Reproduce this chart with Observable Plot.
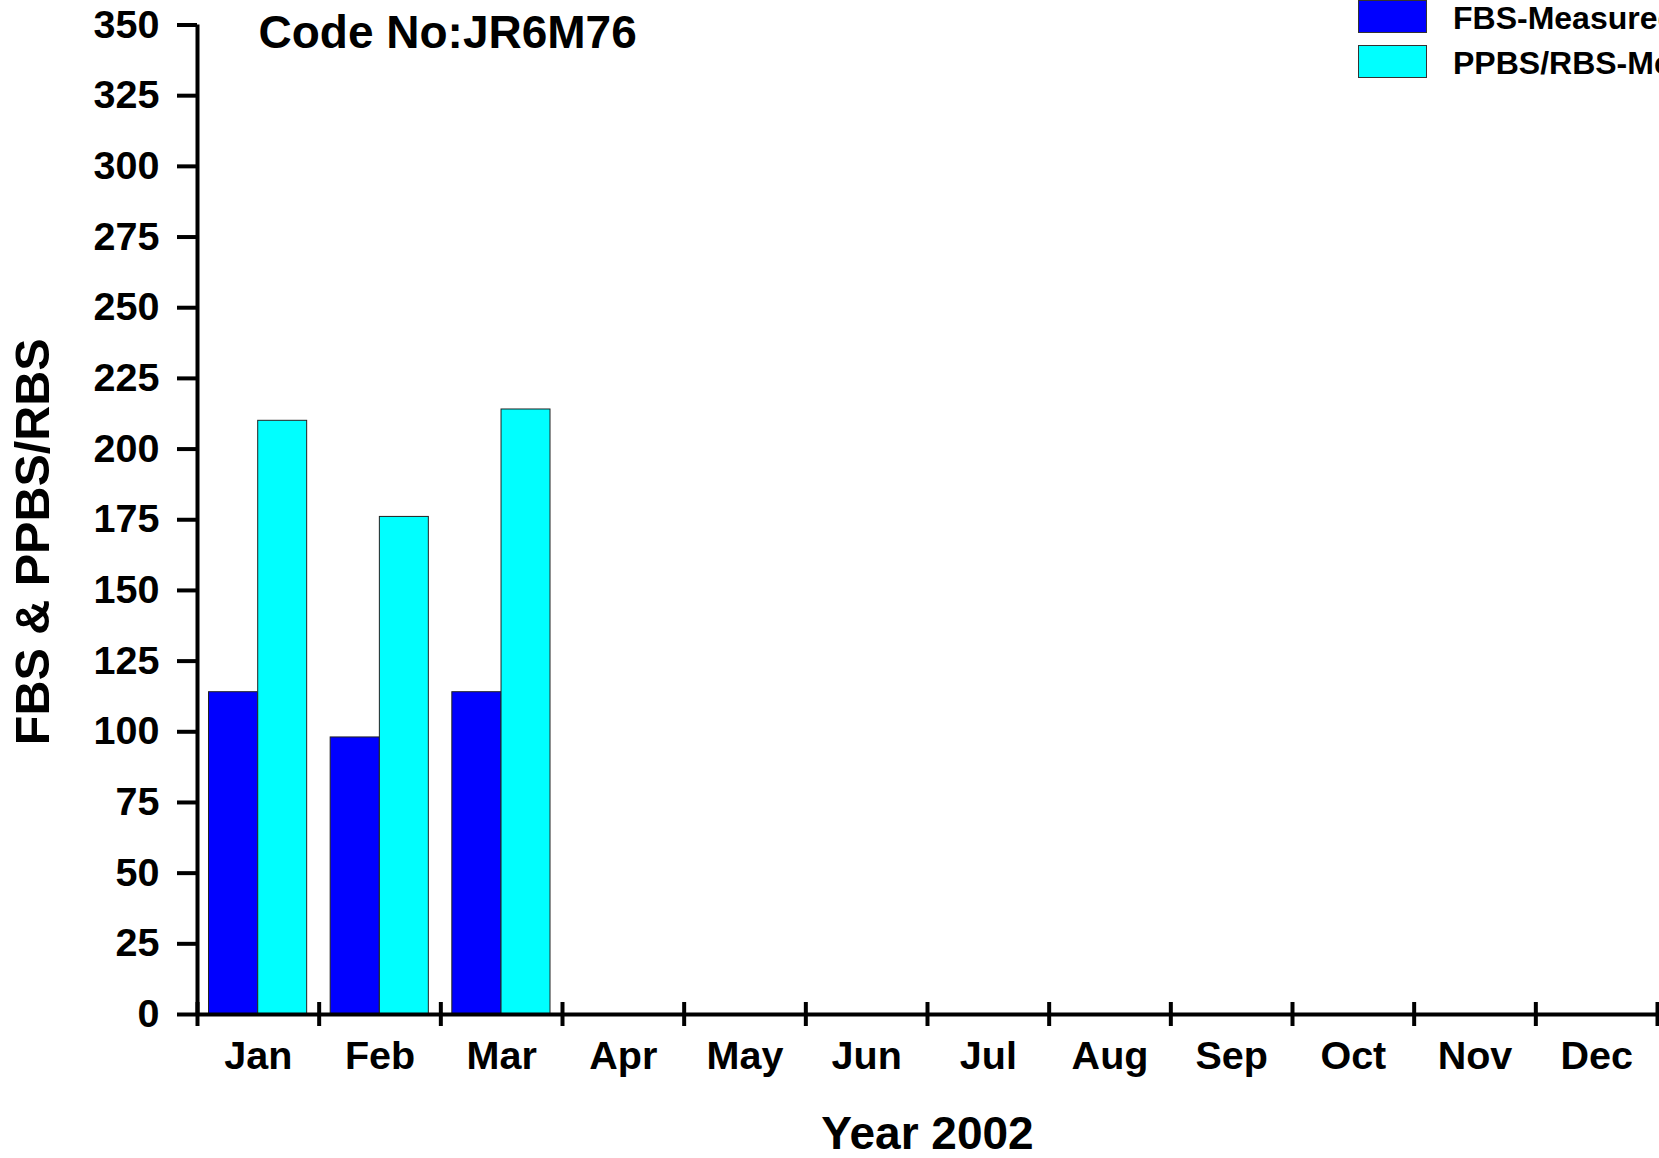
<!DOCTYPE html>
<html>
<head>
<meta charset="utf-8">
<script src="https://cdn.jsdelivr.net/npm/d3@7"></script>
<script src="https://cdn.jsdelivr.net/npm/@observablehq/plot@0.6"></script>
<style>
  html, body { margin: 0; padding: 0; background: #fff; overflow: hidden; }
  #wrap { position: relative; width: 1659px; height: 1158px; overflow: hidden;
          font-family: "Liberation Sans", Arial, sans-serif; font-weight: bold; }
  .sw { position: absolute; left: 1358px; width: 69px; height: 33px; border: 1px solid #333; box-sizing: border-box; }
  .lt { position: absolute; left: 1453px; font-size: 32px; line-height: 1; white-space: nowrap; color: #000; }
</style>
</head>
<body>
<div id="wrap"></div>
<script>
const months = ["Jan","Feb","Mar","Apr","May","Jun","Jul","Aug","Sep","Oct","Nov","Dec"];
const fbsValues = [114, 98, 114];
const ppbsValues = [210, 176, 214];
const yTicks = d3.range(0, 351, 25);
const seriesNames = ["FBS-Measured", "PPBS/RBS-Measured"];
const seriesColors = ["#0000ff", "#00ffff"];

const fbsData = fbsValues.map((v, i) => ({month: months[i], idx: i, value: v}));
const ppbsData = ppbsValues.map((v, i) => ({month: months[i], idx: i, value: v}));
const monthData = months.map((m, i) => ({month: m, mid: i + 0.5}));

const chart = Plot.plot({
  width: 1659,
  height: 1158,
  marginLeft: 197,
  marginRight: 2,
  marginTop: 24.5,
  marginBottom: 144,
  style: {fontFamily: "'Liberation Sans', Arial, sans-serif", fontWeight: "bold", color: "#000", background: "#fff"},
  x: {domain: [0, 12], axis: null},
  y: {domain: [0, 350], axis: null},
  marks: [
    Plot.rectY(fbsData, {x: "idx", interval: 1, y: "value", fill: seriesColors[0], stroke: "#222", strokeWidth: 1, insetLeft: 11.5, insetRight: 61}),
    Plot.rectY(ppbsData, {x: "idx", interval: 1, y: "value", fill: seriesColors[1], stroke: "#222", strokeWidth: 1, insetLeft: 60.7, insetRight: 12}),
    Plot.axisY({ticks: yTicks, tickSize: 20, tickPadding: 18, fontSize: 39.5, fontWeight: "bold", strokeWidth: 4, label: null, tickFormat: d => d}),
    Plot.ruleX([0], {y1: 0, y2: 350, strokeWidth: 4, stroke: "#000"}),
    Plot.ruleY([0], {strokeWidth: 4, stroke: "#000"}),
    Plot.ruleX(d3.range(13), {y1: 0, y2: 0, insetTop: -12, insetBottom: -12, strokeWidth: 4, stroke: "#000"}),
    Plot.text(monthData, {x: "mid", y: () => 0, text: "month", dy: 42, lineAnchor: "middle", fontSize: 39.5, fontWeight: "bold", fill: "#000"}),
    Plot.text(["Year 2002"], {frameAnchor: "bottom", text: d => d, dy: 119.5, textAnchor: "middle", lineAnchor: "middle", fontSize: 46, fontWeight: "bold", fill: "#000"}),
    Plot.text(["FBS & PPBS/RBS"], {frameAnchor: "left", text: d => d, dx: -164, dy: 22, rotate: -90, textAnchor: "middle", lineAnchor: "middle", fontSize: 48.5, fontWeight: "bold", fill: "#000"}),
    Plot.text(["Code No:JR6M76"], {frameAnchor: "top-left", text: d => d, dx: 61, dy: 8.5, textAnchor: "start", lineAnchor: "middle", fontSize: 46, fontWeight: "bold", fill: "#000"})
  ]
});

const wrap = document.getElementById("wrap");
wrap.appendChild(chart);

// legend overlay
const legendTops = [0, 45];
const textTops = [2, 47];
seriesNames.forEach((name, i) => {
  const sw = document.createElement("div");
  sw.className = "sw";
  sw.style.top = legendTops[i] + "px";
  sw.style.background = seriesColors[i];
  wrap.appendChild(sw);
  const t = document.createElement("div");
  t.className = "lt";
  t.style.top = textTops[i] + "px";
  t.textContent = name;
  wrap.appendChild(t);
});
</script>
</body>
</html>
